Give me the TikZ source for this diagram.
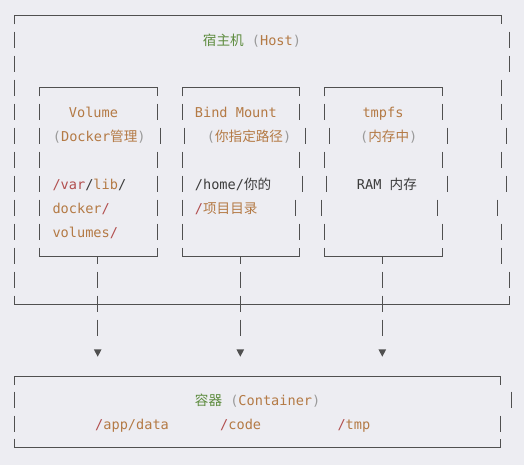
\documentclass[tikz,border=0pt]{standalone}
\usepackage{fontspec}
\usetikzlibrary{calc}
\newfontfamily\mono{DejaVu Sans Mono}
\newfontfamily\cjk{Noto Sans CJK SC}
\definecolor{bg}{HTML}{EDEDF2}
\definecolor{linec}{HTML}{505050}
\definecolor{grn}{HTML}{5E8C3F}
\definecolor{org}{HTML}{B47A45}
\definecolor{rd}{HTML}{B24F4F}
\definecolor{drk}{HTML}{3C3C3C}
\definecolor{gry}{HTML}{9A9A9A}
\tikzset{
  box/.style={draw=linec, line width=1pt},
  txt/.style={anchor=base west, inner sep=0pt, font=\mono\fontsize{13.6}{16}\selectfont},
  tip/.style={fill=linec, draw=none},
}
\newcommand\vb[2]{\draw[box] (#1,{#2-8.3}) -- (#1,{#2+8.3});}
\begin{document}
\begin{tikzpicture}[x=1pt,y=-1pt]
\fill[bg] (0,0) rectangle (524,465);
\useasboundingbox (0,0) rectangle (524,465);

% ---------- Host outer box ----------
\draw[box] (14,24.3) -- (14,16) -- (501,16) -- (501,24.3);
\foreach \c in {40,64,88,112,136,160,184,208,232,256,280} {\vb{14}{\c}}
\foreach \x/\c in {509/40,509/64,501/88,501/112,506/136,501/160,506/184,497.7/208,501/232,501/256,509/280} {\vb{\x}{\c}}
\draw[box] (14,295.7) -- (14,304) -- (509,304) -- (509,295.7);

% ---------- inner box 1: Volume ----------
\draw[box] (39.7,96.3) -- (39.7,88) -- (157,88) -- (157,96.3);
\foreach \c in {112,136,160,184,208,232} {\vb{39.7}{\c}}
\foreach \x/\c in {157/112,160.3/136,157/160,157/184,157/208,157/232} {\vb{\x}{\c}}
\draw[box] (39.7,247.7) -- (39.7,256) -- (157,256) -- (157,247.7);

% ---------- inner box 2: Bind Mount ----------
\draw[box] (182,96.3) -- (182,88) -- (299,88) -- (299,96.3);
\foreach \x/\c in {182/112,184.3/136,182/160,182/184,182/208,182/232} {\vb{\x}{\c}}
\foreach \x/\c in {299/112,305.3/136,299/160,302.3/184,295.7/208,299/232} {\vb{\x}{\c}}
\draw[box] (182,247.7) -- (182,256) -- (299,256) -- (299,247.7);

% ---------- inner box 3: tmpfs ----------
\draw[box] (324.3,96.3) -- (324.3,88) -- (442,88) -- (442,96.3);
\foreach \x/\c in {324.3/112,329.3/136,324.3/160,326/184,321.7/208,324.3/232} {\vb{\x}{\c}}
\foreach \x/\c in {442/112,447/136,442/160,447.7/184,437.7/208,442/232} {\vb{\x}{\c}}
\draw[box] (324.3,247.7) -- (324.3,256) -- (442,256) -- (442,247.7);

% ---------- connectors down to container ----------
\foreach \x [count=\i] in {97.7,240.3,382.3} {
  \coordinate (s\i) at (\x,256);
  \coordinate (t\i) at (\x,349.3);
  \draw[box] (s\i) -- ++(0,8.3);
  \vb{\x}{280}
  \vb{\x}{304}
  \vb{\x}{328}
  \fill[tip] ($(t\i)+(-3.9,0)$) -- ($(t\i)+(3.9,0)$) -- ($(t\i)+(0,7.4)$) -- cycle;
}

% ---------- Container box ----------
\draw[box] (14,385) -- (14,376.7) -- (500.7,376.7) -- (500.7,385);
\vb{14}{400} \vb{511.7}{400}
\vb{14}{424} \vb{500.7}{424}
\draw[box] (14,438.7) -- (14,447) -- (500.7,447) -- (500.7,438.7);

% ---------- texts ----------
\node[txt] (host) at (202.7,45.3) {\color{grn}{\cjk 宿主机} \color{gry}(\color{org}Host\color{gry})};

\node[txt] (vol) at (68.7,117.3) {\color{org}Volume};
\node[txt] (bind) at (194.7,117.3) {\color{org}Bind Mount};
\node[txt] (tmpfs) at (362.3,117.3) {\color{org}tmpfs};

\node[txt] (volsub) at (52.7,141.3) {\color{gry}(\color{org}Docker{\cjk 管理}\color{gry})};
\node[txt] (bindsub) at (206.7,141.3) {\color{gry}(\color{org}{\cjk 你指定路径}\color{gry})};
\node[txt] (tmpsub) at (360,141.3) {\color{gry}(\color{org}{\cjk 内存中}\color{gry})};

\node[txt] (vp1) at (52.3,189.3) {\color{rd}/var\color{drk}/\color{org}lib\color{drk}/};
\node[txt] (vp2) at (52.3,213.3) {\color{org}docker\color{rd}/};
\node[txt] (vp3) at (52.3,237.3) {\color{org}volumes\color{rd}/};

\node[txt] (bp1) at (194.7,189.3) {\color{drk}/home/{\cjk 你的}};
\node[txt] (bp2) at (194.7,213.3) {\color{rd}/\color{org}{\cjk 项目目录}};

\node[txt] (ram) at (356.7,189.3) {\color{drk}RAM {\cjk 内存}};

\node[txt] (cont) at (194.7,405.3) {\color{grn}{\cjk 容器} \color{gry}(\color{org}Container\color{gry})};
\node[txt] (c1) at (95,429.3) {\color{rd}/\color{org}app/data};
\node[txt] (c2) at (220,429.3) {\color{rd}/\color{org}code};
\node[txt] (c3) at (337.3,429.3) {\color{rd}/\color{org}tmp};
\end{tikzpicture}
\end{document}
